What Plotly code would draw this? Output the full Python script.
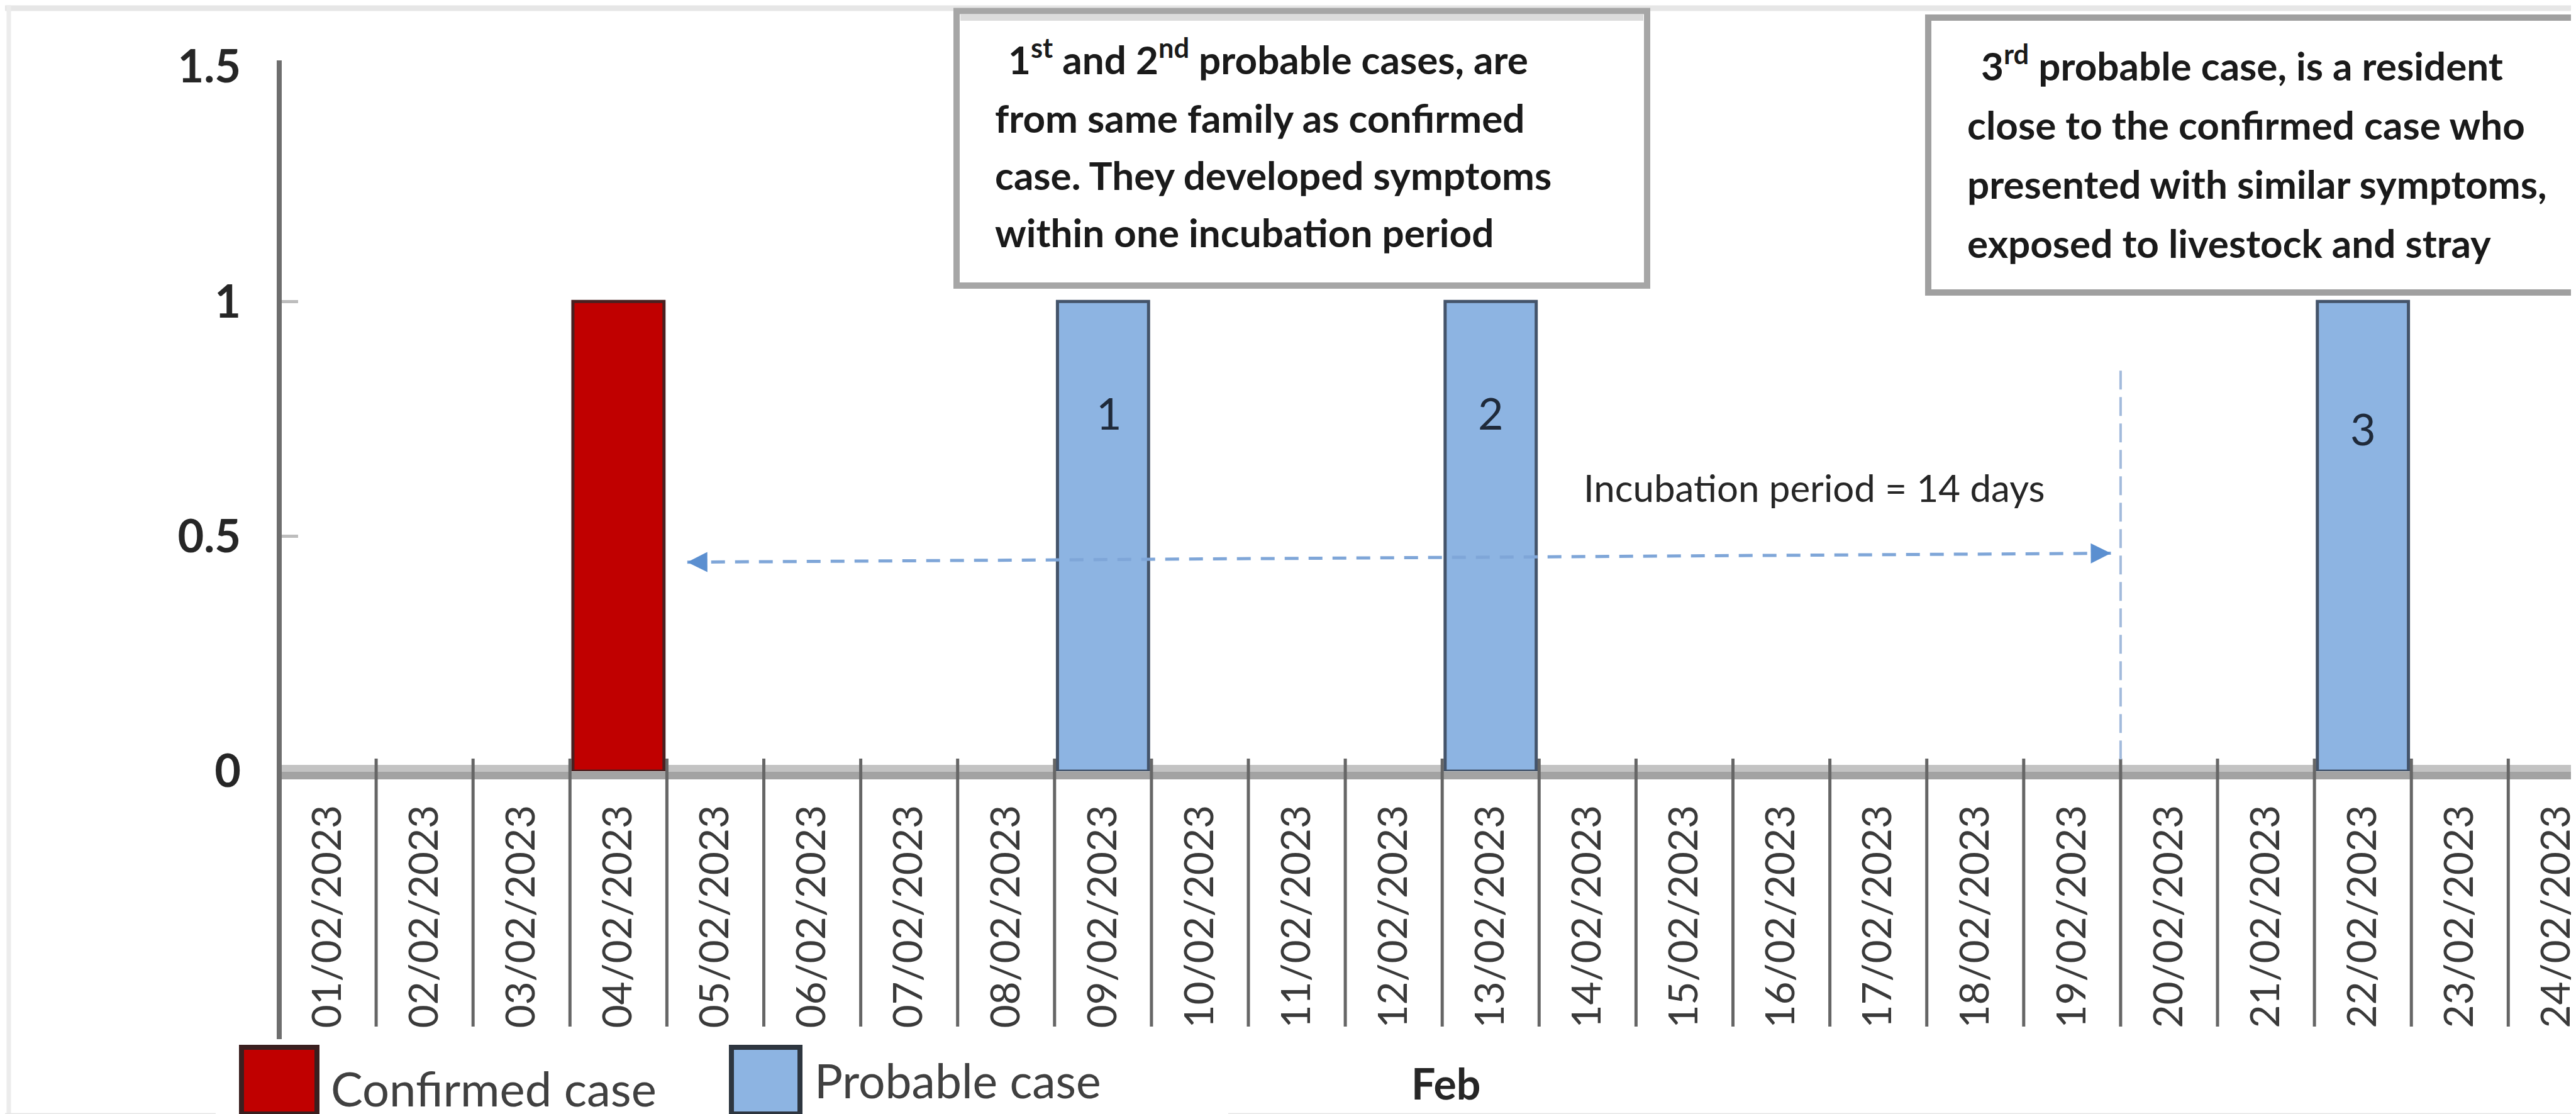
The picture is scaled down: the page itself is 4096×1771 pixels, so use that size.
import plotly.graph_objects as go

# ---------------- data ----------------
dates = ["01/02/2023", "02/02/2023", "03/02/2023", "04/02/2023", "05/02/2023",
         "06/02/2023", "07/02/2023", "08/02/2023", "09/02/2023", "10/02/2023",
         "11/02/2023", "12/02/2023", "13/02/2023", "14/02/2023", "15/02/2023",
         "16/02/2023", "17/02/2023", "18/02/2023", "19/02/2023", "20/02/2023",
         "21/02/2023", "22/02/2023", "23/02/2023", "24/02/2023"]
confirmed = [None, None, None, 1, None, None, None, None, None, None, None, None,
             None, None, None, None, None, None, None, None, None, None, None, None]
probable = [None, None, None, None, None, None, None, None, 1, None, None, None,
            1, None, None, None, None, None, None, None, None, 1, None, None]
series_names = ["Confirmed case", "Probable case"]
case_numbers = ["1", "2", "3"]
case_dates = ["09/02/2023", "13/02/2023", "22/02/2023"]
month_label = "Feb"
incubation_label = "Incubation period = 14 days"
y_ticks = [0, 0.5, 1, 1.5]
y_tick_labels = ["0", "0.5", "1", "1.5"]
note1_lines = ["1<sup>st</sup> and 2<sup>nd</sup> probable cases, are",
               "from same family as confirmed",
               "case. They developed symptoms",
               "within one incubation period"]
note2_lines = ["3<sup>rd</sup> probable case, is a resident",
               "close to the confirmed case who",
               "presented with similar symptoms,",
               "exposed to livestock and stray"]

# ---------------- layout geometry (pixels) ----------------
W, H = 4096, 1771
L, R, T, B = 436, 0, 98, 553
PW, PH = W - L - R, H - T - B
CAT_W = 154.1


def px(x):
    return (x - L) / PW


def py(y):
    return (H - B - y) / PH


RED = "#C00000"
BLUE = "#8DB4E2"
FONT = "Lato"

fig = go.Figure()
fig.add_trace(go.Bar(x=dates, y=confirmed, name=series_names[0],
                     marker=dict(color=RED, line=dict(color="#4a2020", width=5))))
fig.add_trace(go.Bar(x=dates, y=probable, name=series_names[1],
                     marker=dict(color=BLUE, line=dict(color="#44546a", width=5))))

shapes = []
# page frame (light grey)
shapes.append(dict(type="line", xref="paper", yref="paper", x0=px(0), x1=px(W), y0=py(5), y1=py(5),
                   line=dict(color="#e6e6e6", width=9), layer="below"))
shapes.append(dict(type="line", xref="paper", yref="paper", x0=px(6), x1=px(6), y0=py(0), y1=py(H),
                   line=dict(color="#ececec", width=7), layer="below"))
shapes.append(dict(type="line", xref="paper", yref="paper", x0=px(0), x1=px(335), y0=py(1766), y1=py(1766),
                   line=dict(color="#e6e6e6", width=9), layer="below"))
shapes.append(dict(type="line", xref="paper", yref="paper", x0=px(1945), x1=px(W), y0=py(1766), y1=py(1766),
                   line=dict(color="#e6e6e6", width=9), layer="below"))

# x-axis floor band
shapes.append(dict(type="rect", xref="paper", yref="paper", x0=0, x1=1, y0=py(1219), y1=py(1208),
                   fillcolor="#c3c3c3", line=dict(width=0), layer="below"))
shapes.append(dict(type="rect", xref="paper", yref="paper", x0=0, x1=1, y0=py(1231), y1=py(1219),
                   fillcolor="#a3a3a3", line=dict(width=0), layer="below"))

# category separators
for k in range(1, len(dates)):
    shapes.append(dict(type="line", xref="x", yref="paper", x0=k - 0.5, x1=k - 0.5,
                       y0=py(1624), y1=py(1198), line=dict(color="#666666", width=5)))

# y axis line (extends below the category labels)
shapes.append(dict(type="line", xref="paper", yref="paper", x0=0, x1=0, y0=py(1644), y1=py(88),
                   line=dict(color="#6e6e6e", width=8)))

# incubation period markers
shapes.append(dict(type="line", xref="x", yref="y", x0=18.5, x1=18.5, y0=0.025, y1=0.868,
                   line=dict(color="#a3bbdc", width=4, dash="30px,12px")))
shapes.append(dict(type="line", xref="x", yref="y", x0=3.71, x1=18.40, y0=0.445, y1=0.464,
                   line=dict(color="#7fa6d8", width=5, dash="22px,16px")))

# note boxes
shapes.append(dict(type="rect", xref="paper", yref="paper", x0=px(1513), x1=px(2611), y0=py(446), y1=py(9.5),
                   fillcolor="white", line=dict(color="#a6a6a6", width=10)))
shapes.append(dict(type="line", xref="paper", yref="paper", x0=px(1519), x1=px(2605), y0=py(20), y1=py(20),
                   line=dict(color="#dcdcdc", width=10)))
shapes.append(dict(type="rect", xref="paper", yref="paper", x0=px(3058), x1=px(4300), y0=py(457), y1=py(20),
                   fillcolor="white", line=dict(color="#a0a0a0", width=10)))

# legend swatches
shapes.append(dict(type="rect", xref="paper", yref="paper", x0=px(376), x1=px(496), y0=py(1763), y1=py(1657),
                   fillcolor=RED, line=dict(color="#3b1f1f", width=8)))
shapes.append(dict(type="rect", xref="paper", yref="paper", x0=px(1155), x1=px(1264), y0=py(1763), y1=py(1657),
                   fillcolor=BLUE, line=dict(color="#2e3640", width=8)))

annotations = []
# note texts
note_font = dict(family=FONT, size=62, color="#1a1a1a", weight="bold")
for i, (line, base) in enumerate(zip(note1_lines, [111, 204, 295, 386])):
    x0 = 1593 if i == 0 else 1572
    annotations.append(dict(xref="paper", yref="paper", x=px(x0), y=py(base + 14), text=line,
                            showarrow=False, xanchor="left", yanchor="bottom", font=note_font))
for i, (line, base) in enumerate(zip(note2_lines, [121, 215, 309, 403])):
    x0 = 3140 if i == 0 else 3118
    annotations.append(dict(xref="paper", yref="paper", x=px(x0), y=py(base + 14), text=line,
                            showarrow=False, xanchor="left", yanchor="bottom", font=note_font))

# incubation label
annotations.append(dict(xref="paper", yref="paper", x=px(2508), y=py(805), text=incubation_label,
                        showarrow=False, xanchor="left", yanchor="bottom",
                        font=dict(family=FONT, size=60, color="#262626")))
# arrow heads
annotations.append(dict(xref="x", yref="y", axref="x", ayref="y", x=3.71, y=0.445, ax=3.86, ay=0.4452,
                        text="", showarrow=True, arrowhead=2, arrowsize=1.6, arrowwidth=4,
                        arrowcolor="#5b8fd0"))
annotations.append(dict(xref="x", yref="y", axref="x", ayref="y", x=18.40, y=0.464, ax=18.25, ay=0.4638,
                        text="", showarrow=True, arrowhead=2, arrowsize=1.6, arrowwidth=4,
                        arrowcolor="#5b8fd0"))

# case numbers on bars
for num, d in zip(case_numbers, case_dates):
    annotations.append(dict(xref="x", yref="y", x=d, y=0.73 if num == "3" else 0.763, text=num,
                            showarrow=False, xanchor="center", yanchor="middle",
                            xshift=10 if num == "1" else 0,
                            font=dict(family=FONT, size=70, color="#1f2a3a")))

# legend texts and month label
annotations.append(dict(xref="paper", yref="paper", x=px(516), y=py(1769), text=series_names[0],
                        showarrow=False, xanchor="left", yanchor="bottom",
                        font=dict(family=FONT, size=76, color="#404040")))
annotations.append(dict(xref="paper", yref="paper", x=px(1285), y=py(1756), text=series_names[1],
                        showarrow=False, xanchor="left", yanchor="bottom",
                        font=dict(family=FONT, size=75, color="#404040")))
annotations.append(dict(xref="paper", yref="paper", x=px(2291), y=py(1756), text=month_label,
                        showarrow=False, xanchor="center", yanchor="bottom",
                        font=dict(family=FONT, size=68, color="#262626", weight="bold")))

fig.update_layout(
    width=W, height=H,
    margin=dict(l=L, r=R, t=T, b=B, autoexpand=False),
    paper_bgcolor="white", plot_bgcolor="white",
    barmode="overlay", bargap=0.06,
    showlegend=False,
    shapes=shapes, annotations=annotations,
    xaxis=dict(type="category", range=[-0.5, -0.5 + PW / CAT_W], showline=False, showgrid=False,
               zeroline=False, ticks="", tickangle=-90, tickmode="array", tickvals=dates, ticktext=dates,
               tickfont=dict(family=FONT, size=64, color="#3a3a3a"), ticklabelstandoff=40,
               automargin=False),
    yaxis=dict(range=[0, 1.5], tickmode="array", tickvals=y_ticks, ticktext=y_tick_labels,
               showline=False, showgrid=False, zeroline=False, ticks="inside", ticklen=30,
               tickwidth=5, tickcolor="#bdbdbd",
               tickfont=dict(family=FONT, size=72, color="#262626", weight="bold"),
               ticklabelstandoff=60, automargin=False),
)

fig.write_html("out.html")
